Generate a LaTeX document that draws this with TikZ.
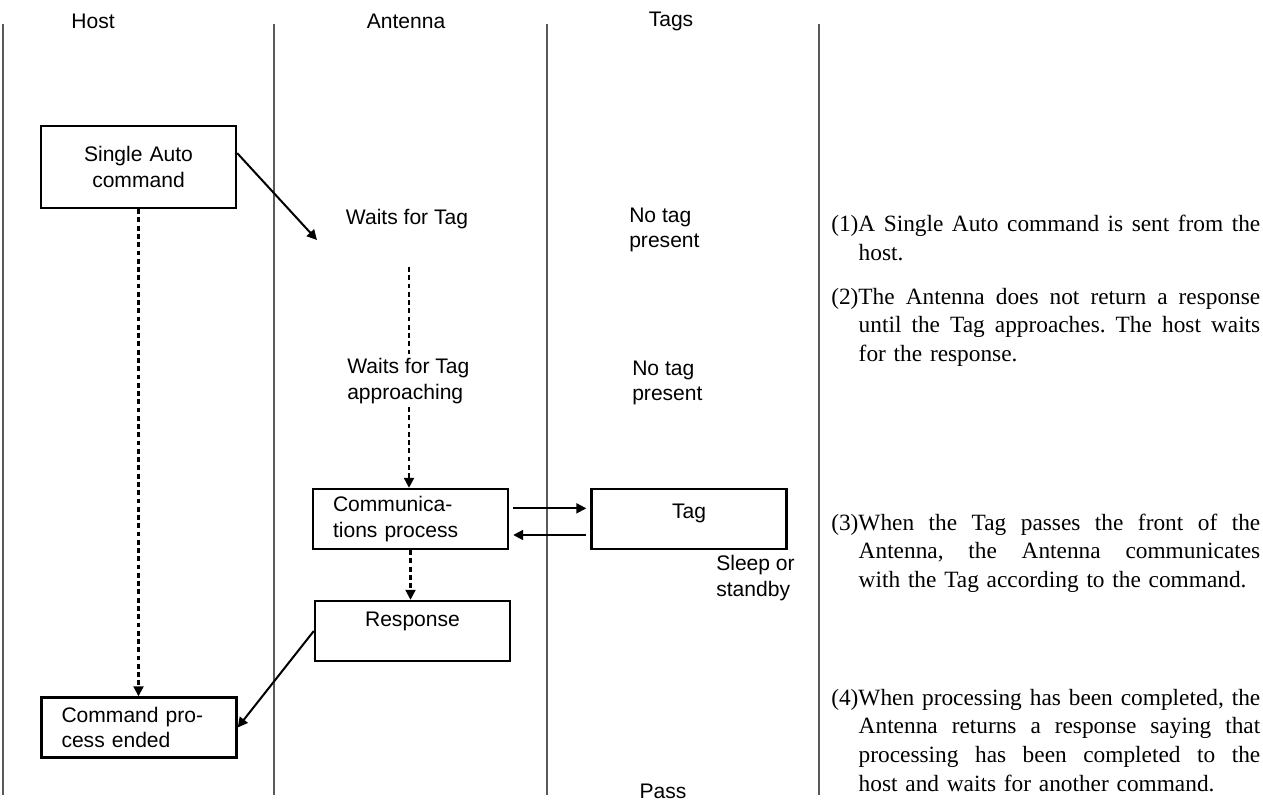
\documentclass[tikz,border=0pt]{standalone}
\usepackage{fontspec}
\setmainfont{Liberation Serif}
\setsansfont{Liberation Sans}
\usepackage{tikz}
\usetikzlibrary{arrows.meta}

\newcommand{\notefont}{\fontsize{17.5}{21.5}\selectfont\frenchspacing}
\newcommand{\lblfont}{\sffamily\fontsize{15.8}{19}\selectfont}
% justified lines of the notes: word gaps stretch to the full width
\newcommand{\fullline}[1]{\hbox to 321.75pt{\spaceskip=0.25em plus 1fil\relax #1}}
\newcommand{\hangline}[1]{\hbox to 321.75pt{\spaceskip=0.25em plus 1fil\relax\hskip 20.6pt #1}}
\newcommand{\lastline}[1]{\hbox{\hskip 20.6pt #1}}

\begin{document}
\begin{tikzpicture}[
    x=0.75pt, y=-0.75pt,
    lane/.style={draw=black!65, line width=0.9pt},
    lbl/.style={font=\lblfont, inner sep=0pt, align=left},
    procbox/.style={rectangle, draw=black, line width=1.8pt, minimum height=45pt, inner xsep=15pt, text width=116.25pt, align=left, font=\lblfont},
    note/.style={font=\notefont, inner sep=0pt, text width=321.75pt, align=left},
    arrow/.style={line width=1.5pt, -{Triangle[length=7.5pt,width=7.5pt]}},
    dashline/.style={line width=1.6pt, dash pattern=on 3.6pt off 2.6pt},
    dasharrow/.style={dashline, -{Triangle[length=7.5pt,width=7.5pt]}}
]
\useasboundingbox (0,0) rectangle (1263,802);

% Lanes
\foreach \x in {3,274,547,819}
    \draw[lane] (\x,24) -- (\x,795);

% Nodes
\node (host) [lbl] at (93,21) {Host};
\node (antenna) [lbl] at (406,21) {Antenna};
\node (tags) [lbl] at (671,21) {Tags};

\node (sac) [procbox, align=center, minimum height=61.5pt] at (138.5,167) {Single Auto\\command};
\node (wait1) [lbl] at (407,219) {Waits for Tag};
\node (notag1) [lbl, anchor=west] at (629,230) {No tag\\present};
\node (wait2) [lbl, anchor=west] at (347,381) {Waits for Tag\\approaching};
\node (notag2) [lbl, anchor=west] at (632,383) {No tag\\present};
\node (comm) [procbox] at (410.5,519) {Communica-\\tions process};
\node (tag) [procbox, align=center, text depth=11pt] at (689,519) {Tag};
\node (sleep) [lbl, anchor=west] at (716,578) {Sleep or\\standby};
\node (resp) [procbox, align=center, text depth=17pt] at (412.5,631) {Response};
\node (cmdend) [procbox] at (139,727.5) {Command pro-\\cess ended};
\node (pass) [lbl] at (663,791) {Pass};

\coordinate (w1tip) at (317,240);
\coordinate (d1a) at (409,267);
\coordinate (d1b) at (409,358);
\coordinate (d2a) at (409,407);

% Notes
\node (note1) [note, anchor=base west] at (831,232) {\fullline{(1)A Single Auto command is sent from the}
\lastline{host.}};
\node (note2) [note, anchor=base west] at (831,304) {\fullline{(2)The Antenna does not return a response}
\hangline{until the Tag approaches. The host waits}
\lastline{for the response.}};
\node (note3) [note, anchor=base west] at (831,530) {\fullline{(3)When the Tag passes the front of the}
\hangline{Antenna, the Antenna communicates}
\lastline{with the Tag according to the command.}};
\node (note4) [note, anchor=base west] at (831,705) {\fullline{(4)When processing has been completed, the}
\hangline{Antenna returns a response saying that}
\hangline{processing has been completed to the}
\lastline{host and waits for another command.}};

% Arrows
\draw [arrow] (sac.8) -- (w1tip);
\draw [dasharrow] (sac.south) -- (sac.south |- cmdend.north);
\draw [dashline] (d1a) -- (d1b);
\draw [dasharrow] (d2a) -- (d2a |- comm.north);
\draw [arrow, shorten <=3pt, shorten >=3pt] ([yshift=8pt]comm.east) -- ([yshift=8pt]tag.west);
\draw [arrow, shorten <=3pt, shorten >=3pt] ([yshift=-12pt]tag.west) -- ([yshift=-12pt]comm.east);
\draw [dasharrow] (comm.south) -- (comm.south |- resp.north);
\draw [arrow] (resp.west) -- (cmdend.east);

\end{tikzpicture}
\end{document}
